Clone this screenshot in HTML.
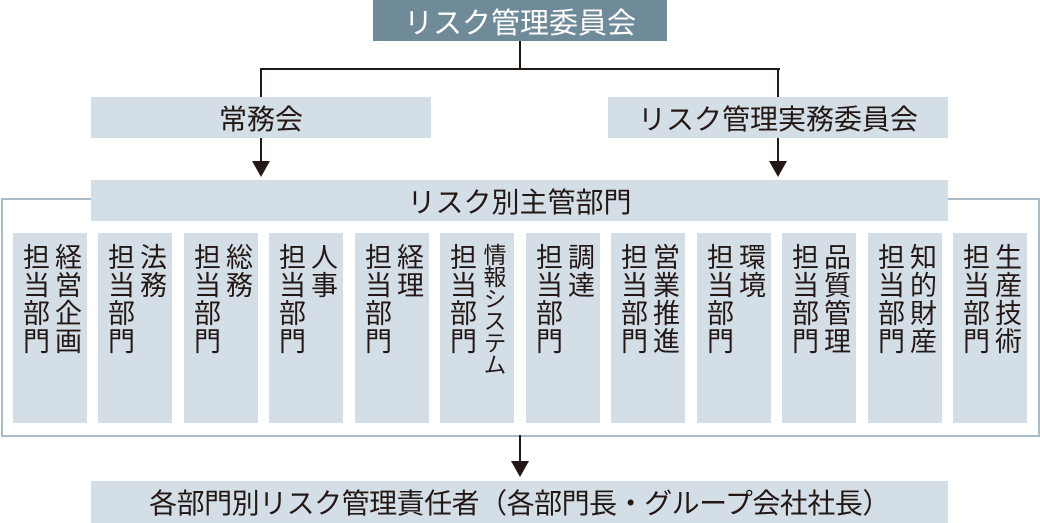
<!DOCTYPE html>
<html><head><meta charset="utf-8"><style>
body{margin:0;width:1040px;height:523px;position:relative;background:#fff;font-family:"Liberation Sans","Noto Sans CJK JP",sans-serif;color:#231815;overflow:hidden}
.b{position:absolute;background:#d4dee6;display:flex;align-items:center;justify-content:center;font-size:28px;white-space:nowrap}
.l{position:absolute;background:#231815}
.col{position:absolute;top:233px;width:74px;height:190px;background:#d4dee6}
.v{position:absolute;top:10px;writing-mode:vertical-rl;font-size:27px;line-height:28px;letter-spacing:1px}
.a{position:absolute;width:0;height:0;border-left:9px solid transparent;border-right:9px solid transparent;border-top:16px solid #231815}
</style></head><body>
<div class="b" style="left:373px;top:0;width:294px;height:41px;background:#6f8a99;color:#fff;font-size:29px">リスク管理委員会</div>
<div class="l" style="left:519px;top:41px;width:2px;height:28px"></div>
<div class="l" style="left:260px;top:68px;width:520px;height:2px"></div>
<div class="l" style="left:260px;top:68px;width:2px;height:29px"></div>
<div class="l" style="left:777px;top:68px;width:2px;height:29px"></div>
<div class="b" style="left:91px;top:97px;width:340px;height:41px">常務会</div>
<div class="b" style="left:608px;top:97px;width:340px;height:41px">リスク管理実務委員会</div>
<div class="l" style="left:260px;top:138px;width:2px;height:24px"></div>
<div class="a" style="left:252px;top:161px"></div>
<div class="l" style="left:777px;top:138px;width:2px;height:24px"></div>
<div class="a" style="left:769px;top:161px"></div>
<div style="position:absolute;left:1px;top:198px;width:1035px;height:235px;border:2px solid #a9bcc8"></div>
<div class="b" style="left:91px;top:180px;width:857px;height:41px">リスク別主管部門</div>
<div class="col" style="left:13px"><span class="v" style="left:39px">経営企画</span><span class="v" style="left:7px">担当部門</span></div>
<div class="col" style="left:98px"><span class="v" style="left:39px">法務</span><span class="v" style="left:7px">担当部門</span></div>
<div class="col" style="left:184px"><span class="v" style="left:39px">総務</span><span class="v" style="left:7px">担当部門</span></div>
<div class="col" style="left:269px"><span class="v" style="left:39px">人事</span><span class="v" style="left:7px">担当部門</span></div>
<div class="col" style="left:355px"><span class="v" style="left:39px">経理</span><span class="v" style="left:7px">担当部門</span></div>
<div class="col" style="left:440px"><span class="v" style="left:40px;font-size:23px;line-height:25px;letter-spacing:-1px">情報システム</span><span class="v" style="left:7px">担当部門</span></div>
<div class="col" style="left:526px"><span class="v" style="left:39px">調達</span><span class="v" style="left:7px">担当部門</span></div>
<div class="col" style="left:611px"><span class="v" style="left:39px">営業推進</span><span class="v" style="left:7px">担当部門</span></div>
<div class="col" style="left:697px"><span class="v" style="left:39px">環境</span><span class="v" style="left:7px">担当部門</span></div>
<div class="col" style="left:782px"><span class="v" style="left:39px">品質管理</span><span class="v" style="left:7px">担当部門</span></div>
<div class="col" style="left:868px"><span class="v" style="left:39px">知的財産</span><span class="v" style="left:7px">担当部門</span></div>
<div class="col" style="left:953px"><span class="v" style="left:39px">生産技術</span><span class="v" style="left:7px">担当部門</span></div>
<div class="l" style="left:519px;top:435px;width:2px;height:27px"></div>
<div class="a" style="left:511px;top:461px"></div>
<div class="b" style="left:91px;top:481px;width:857px;height:42px;font-size:28px;letter-spacing:-0.5px">各部門別リスク管理責任者（各部門長・グループ会社社長）</div>
</body></html>
